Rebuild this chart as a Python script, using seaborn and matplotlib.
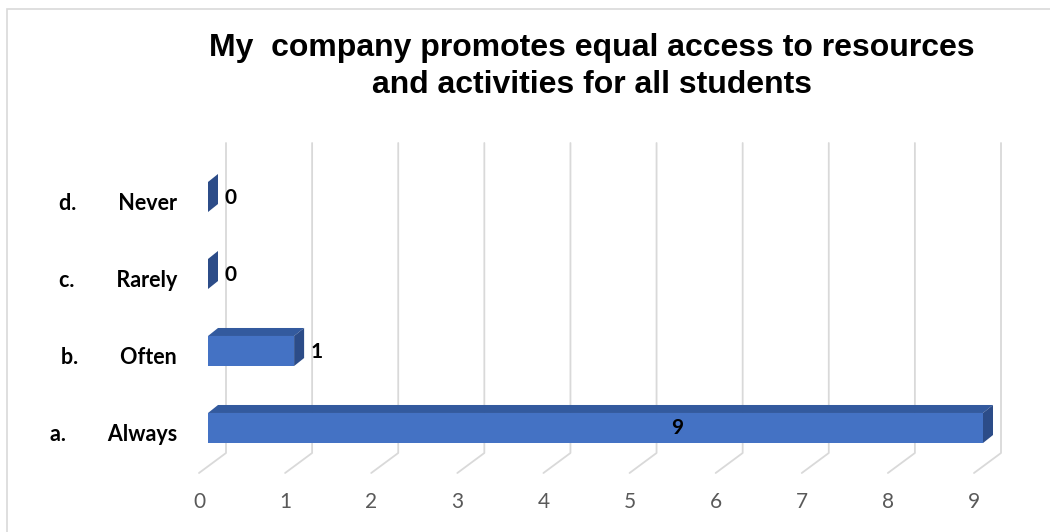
import matplotlib
matplotlib.use("Agg")
import matplotlib.pyplot as plt
import seaborn as sns
import pandas as pd
from matplotlib.patches import Polygon, Rectangle
from matplotlib.lines import Line2D
from matplotlib.transforms import IdentityTransform

# ---- data ----
title = "My  company promotes equal access to resources\nand activities for all students"
categories = ["d.        Never", "c.        Rarely", "b.        Often", "a.        Always"]
values = [0, 0, 1, 9]
xticks = list(range(0, 10))

sns.set_theme(style="white")
plt.rcParams["font.family"] = ["Lato", "DejaVu Sans"]

W, H, DPI = 1050, 532, 100
fig = plt.figure(figsize=(W / DPI, H / DPI), dpi=DPI)
fig.patch.set_facecolor("white")

# outer chart border
fig.patches.append(Rectangle((7 / W, -0.2), 1.2, 1.2 - 9 / H, transform=fig.transFigure,
                             fill=False, edgecolor="#D9D9D9", linewidth=1.2, zorder=0))

ax = fig.add_axes([208 / W, 1 - 466.5 / H, 775 / W, 308 / H])
df = pd.DataFrame({"cat": categories, "val": values})
sns.barplot(data=df, x="val", y="cat", order=categories, orient="h", color="#4472C4",
            width=0.39, saturation=1, ax=ax, zorder=3)
ax.set_xlim(0, 9)
ax.set_ylim(3.5, -0.5)
ax.set_xlabel("")
ax.set_ylabel("")
ax.set_xticks([])
ax.set_yticks([])
for s in ax.spines.values():
    s.set_visible(False)
ax.patch.set_alpha(0)

# 3D depth offsets (pixels)
BX, BY = 18, 13.5     # back wall offset
FX, FY = -9, -6.5     # front floor offset
DX, DY = 10, 8        # bar depth

ident = IdentityTransform()
# gridlines on back wall + floor diagonals
for v in xticks:
    xb, yb = ax.transData.transform((v, 3.5))
    _, yt = ax.transData.transform((v, -0.5))
    ln = Line2D([xb + FX, xb + BX, xb + BX], [yb + FY, yb + BY, yt + BY + 2],
                transform=ident, color="#D9D9D9", linewidth=1.3, zorder=1)
    ax.add_line(ln)
    ln.set_clip_on(False)
    fig.text((xb + FX) / W, (yb - 35.5) / H, str(v), ha="center", va="center",
             fontsize=15, color="#595959", fontfamily=["Lato", "DejaVu Sans"])

# 3D faces for bars
for p in ax.patches:
    x0, y0 = p.get_x(), p.get_y()
    x1, y1 = x0 + p.get_width(), y0 + p.get_height()
    (ax0, ay0), (ax1, ay1) = ax.transData.transform([(x0, y0), (x1, y1)])
    L, R = min(ax0, ax1), max(ax0, ax1)
    B, T = min(ay0, ay1), max(ay0, ay1)
    top = Polygon([(L, T), (R, T), (R + DX, T + DY), (L + DX, T + DY)], closed=True,
                  transform=ident, facecolor="#335A9E", edgecolor="none", zorder=3)
    side = Polygon([(R, B), (R, T), (R + DX, T + DY), (R + DX, B + DY)], closed=True,
                   transform=ident, facecolor="#2C4C88", edgecolor="none", zorder=3)
    for poly in (top, side):
        ax.add_patch(poly)
        poly.set_clip_on(False)
    p.set_edgecolor("none")

# category labels on the floor plane
for i, c in enumerate(categories):
    xl, yc = ax.transData.transform((0, i))
    fig.text((xl + FX - 22) / W, (yc + FY) / H, c, ha="right", va="center",
             fontsize=15.5, fontweight="bold", color="black")

# data labels
for i, v in enumerate(values):
    if v >= 5:
        x, y = ax.transData.transform((v * 0.605, i))
        fig.text(x / W, y / H, str(v), ha="center", va="center", fontsize=15,
                 fontweight="bold", color="black")
    else:
        x, y = ax.transData.transform((v, i))
        fig.text((x + 16) / W, (y - 1) / H, str(v), ha="left", va="center", fontsize=15,
                 fontweight="bold", color="black")

fig.text(592 / W, 1 - 93 / H, title, ha="center", va="baseline", fontsize=23,
         fontweight="bold", color="black", linespacing=1.3,
         fontfamily=["Liberation Sans", "DejaVu Sans"])

fig.savefig("out.png", dpi=DPI, facecolor="white")
